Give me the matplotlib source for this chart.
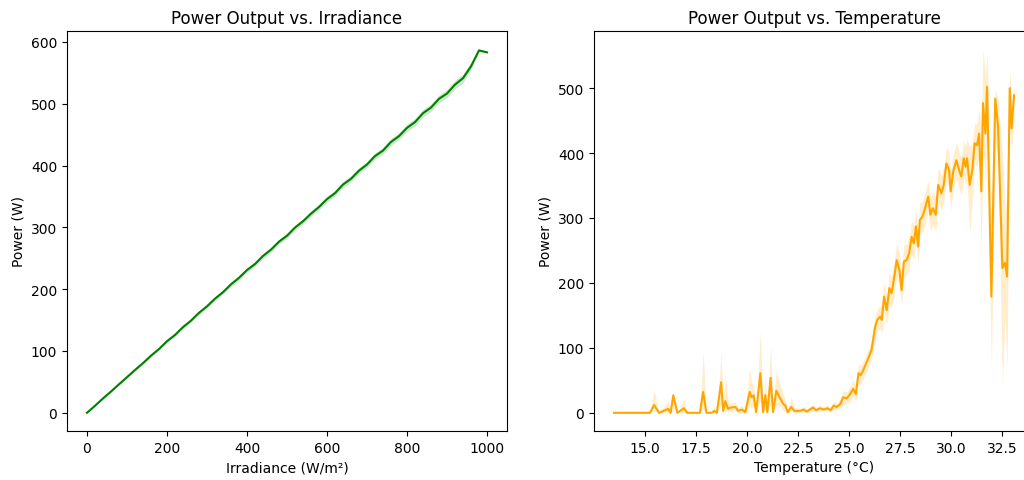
import matplotlib
matplotlib.use("Agg")
import matplotlib.pyplot as plt

# power vs irradiance (mean line + thin CI band)
irradiance = [0, 20, 40, 60, 80, 100, 120, 140, 160, 180, 200, 220, 240, 260, 280,
              300, 320, 340, 360, 380, 400, 420, 440, 460, 480, 500, 520, 540, 560,
              580, 600, 620, 640, 660, 680, 700, 720, 740, 760, 780, 800, 820, 840,
              860, 880, 900, 920, 940, 960, 980, 1000]
power_irr = [0, 11.3, 23.2, 34.4, 46.1, 57.6, 69.2, 80.3, 92.4, 103.2, 115.8, 125.9,
             138.6, 149.1, 161.7, 172.2, 184.6, 195.1, 207.8, 218.3, 230.9, 240.6,
             253.7, 263.9, 276.8, 286.4, 299.6, 309.8, 322.1, 332.9, 345.7, 355.3,
             369.2, 378.5, 391.7, 401.6, 415.3, 424.1, 438.2, 447.5, 460.9, 470.2,
             484.6, 493.7, 507.9, 516.4, 530.8, 541.2, 560.4, 586.2, 583.1]
irr_ci = [0, 0.5, 0.8, 1, 1, 1.2, 1.5, 1.5, 1.8, 2, 2, 2.5, 2.5, 2.5, 3, 3, 3, 3, 3.5,
          3.5, 3.5, 3.5, 4, 4, 4, 4, 4, 4, 4.5, 4.5, 4.5, 4.5, 5, 5, 5, 5, 5, 5.5, 5.5,
          5.5, 6, 6, 6, 6, 6.5, 6.5, 7, 7, 6, 2, 0]

# power vs temperature (mean line, CI lower / upper)
temperature = [13.5, 15.26, 15.46, 15.7, 16.15, 16.27, 16.4, 16.6, 16.92, 17.08, 17.7,
               17.86, 18.02, 18.28, 18.4, 18.53, 18.74, 18.84, 18.95, 19.08, 19.2,
               19.44, 19.57, 19.76, 19.92, 20.14, 20.23, 20.33, 20.45, 20.66, 20.79,
               20.9, 21.0, 21.16, 21.28, 21.44, 21.6, 21.77, 21.88, 22.0, 22.17, 22.32,
               22.61, 22.77, 22.93, 23.23, 23.39, 23.58, 23.74, 23.94, 24.1, 24.24,
               24.4, 24.56, 24.72, 24.88, 25.05, 25.2, 25.33, 25.46, 25.57, 25.7,
               25.94, 26.1, 26.27, 26.38, 26.51, 26.6, 26.71, 26.84, 26.97, 27.08,
               27.2, 27.33, 27.46, 27.57, 27.68, 27.81, 27.94, 28.06, 28.17, 28.27,
               28.38, 28.46, 28.59, 28.7, 28.87, 28.98, 29.1, 29.24, 29.36, 29.52,
               29.63, 29.76, 29.89, 29.97, 30.09, 30.25, 30.38, 30.49, 30.61, 30.7,
               30.77, 30.9, 31.03, 31.14, 31.26, 31.36, 31.47, 31.55, 31.67, 31.75,
               31.96, 32.15, 32.29, 32.5, 32.63, 32.73, 32.86, 32.95, 33.07]
power_temp = [0, 0, 12, 0, 6, 0, 27, 0, 7, 0, 0,
              32, 0, 0, 3, 0, 47, 3, 18, 6, 8,
              9, 3, 5, 1, 32, 24, 27, 1, 61, 1,
              27, 1, 54, 1, 34, 24, 14, 11, 1, 9, 3,
              3, 5, 2, 8, 4, 7, 5, 7, 4, 11,
              9, 13, 24, 22, 29, 37, 29, 61, 58, 66,
              84, 97, 132, 143, 148, 143, 179, 158, 192, 184,
              207, 235, 220, 189, 233, 235, 246, 271, 261, 287,
              256, 297, 302, 313, 333, 305, 315, 305, 351, 338,
              351, 384, 374, 341, 371, 389, 374, 364, 392, 379,
              392, 351, 374, 415, 412, 430, 341, 477, 430, 502,
              179, 484, 441, 223, 231, 210, 500, 438, 489]
temp_lo = [0, 0, 4, 0, 0, 0, 8, 0, 0, 0, 0,
           5, 0, 0, 0, 0, 12, 0, 4, 0, 2,
           3, 0, 0, 0, 10, 8, 10, 0, 20, 0,
           5, 0, 14, 0, 12, 10, 4, 3, 0, 2, 0,
           0, 1, 0, 3, 1, 3, 2, 3, 1, 5,
           4, 6, 14, 13, 18, 25, 18, 45, 44, 52,
           70, 82, 112, 125, 130, 122, 155, 135, 168, 160,
           180, 210, 195, 165, 208, 212, 222, 245, 235, 260,
           230, 272, 278, 288, 308, 280, 290, 278, 325, 312,
           325, 358, 348, 312, 345, 362, 345, 335, 365, 350,
           362, 275, 330, 385, 380, 395, 240, 420, 350, 450,
           65, 420, 380, 45, 150, 70, 460, 400, 460]
temp_hi = [0, 0, 36, 0, 18, 0, 30, 0, 22, 0, 0,
           94, 0, 0, 10, 0, 94, 12, 58, 18, 15,
           16, 8, 12, 4, 70, 45, 42, 5, 126, 5,
           55, 4, 103, 6, 66, 45, 30, 20, 4, 25, 8,
           7, 10, 6, 13, 8, 12, 9, 12, 8, 17,
           15, 21, 35, 32, 40, 50, 40, 75, 72, 80,
           98, 112, 150, 160, 165, 163, 200, 180, 215, 210,
           232, 262, 245, 215, 258, 260, 270, 296, 288, 312,
           282, 322, 326, 338, 358, 330, 340, 332, 378, 365,
           378, 410, 400, 370, 398, 416, 402, 392, 420, 410,
           422, 410, 415, 445, 445, 470, 430, 560, 520, 555,
           300, 500, 480, 400, 310, 340, 530, 470, 505]

fig = plt.figure(figsize=(10.24, 4.81), dpi=100)
ax1 = fig.add_axes([0.0654, 0.1019, 0.4297, 0.8316])
ax2 = fig.add_axes([0.5801, 0.1019, 0.4297, 0.8316])

lo1 = [p - c for p, c in zip(power_irr, irr_ci)]
hi1 = [p + c for p, c in zip(power_irr, irr_ci)]
ax1.fill_between(irradiance, lo1, hi1, color="green", alpha=0.2, linewidth=0)
ax1.plot(irradiance, power_irr, color="green", linewidth=1.5)
ax1.set_title("Power Output vs. Irradiance", fontsize=12)
ax1.set_xlabel("Irradiance (W/m²)")
ax1.set_ylabel("Power (W)")

ax2.fill_between(temperature, temp_lo, temp_hi, color="orange", alpha=0.2, linewidth=0)
ax2.plot(temperature, power_temp, color="orange", linewidth=1.5)
ax2.set_title("Power Output vs. Temperature", fontsize=12)
ax2.set_xlabel("Temperature (°C)")
ax2.set_ylabel("Power (W)")
ax2.set_xticks([15.0, 17.5, 20.0, 22.5, 25.0, 27.5, 30.0, 32.5])

fig.savefig("out.png", dpi=100)
